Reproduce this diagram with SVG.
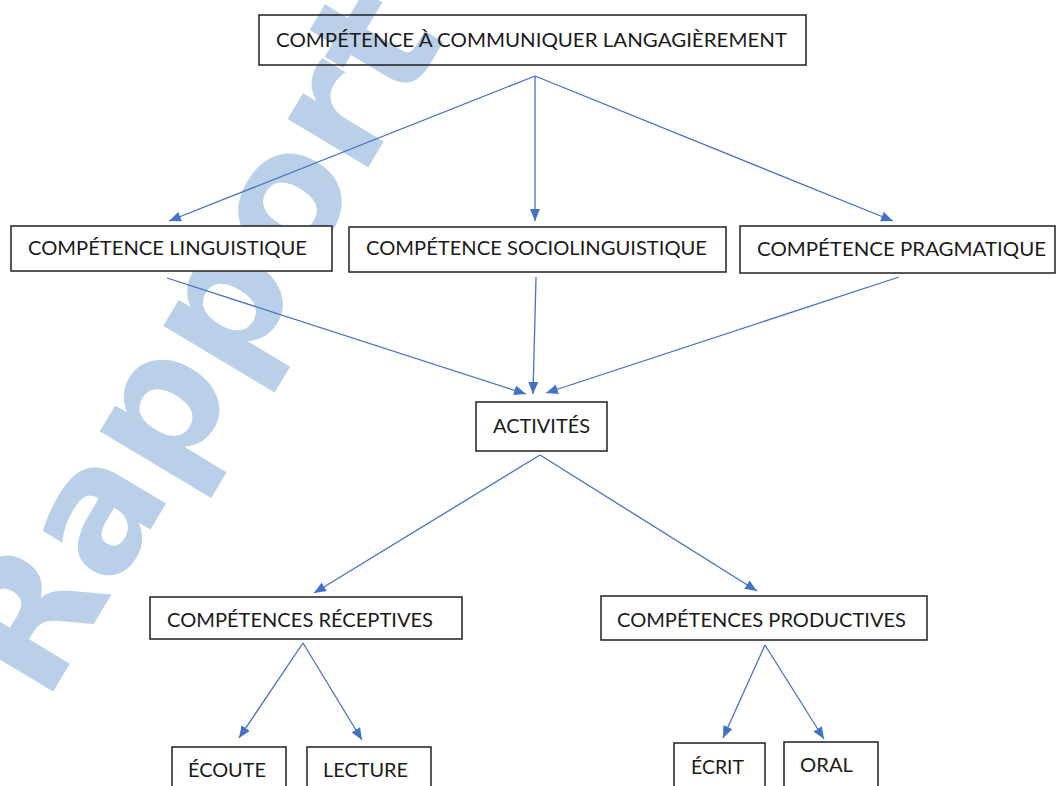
<svg xmlns="http://www.w3.org/2000/svg" width="1057" height="786" viewBox="0 0 1057 786">
<style>
.box{fill:#ffffff;stroke:#1f1f1f;stroke-width:1.5}
.boxt{fill:none;stroke:#1f1f1f;stroke-width:1.5}
.lbl{font-family:Lato,"Open Sans","Liberation Sans",sans-serif;font-size:20px;fill:#1a1a1a}
.con{stroke:#4472C4;stroke-width:1.3;fill:none;marker-end:url(#ah)}
.wm{font-family:"DejaVu Sans",Verdana,sans-serif;font-weight:bold;font-size:172px;fill:#b9d0e8}
</style>
<defs>
<marker id="ah" markerUnits="userSpaceOnUse" markerWidth="13" markerHeight="11" refX="12" refY="5" orient="auto">
<path d="M0,0 L12,5 L0,10 z" fill="#4472C4"/>
</marker>
</defs>
<rect x="0" y="0" width="1057" height="786" fill="#ffffff"/>
<text class="wm" transform="translate(45,705) rotate(-59)">Rapport</text>
<g id="connectors">
<line class="con" x1="535" y1="76" x2="169" y2="221"/>
<line class="con" x1="535" y1="76" x2="535" y2="221"/>
<line class="con" x1="535" y1="76" x2="893" y2="221"/>
<line class="con" x1="167" y1="278" x2="526" y2="394"/>
<line class="con" x1="536" y1="277" x2="533" y2="394"/>
<line class="con" x1="899" y1="277" x2="546" y2="393"/>
<line class="con" x1="540" y1="455" x2="314" y2="593"/>
<line class="con" x1="540" y1="455" x2="757" y2="591"/>
<line class="con" x1="303" y1="643" x2="239" y2="738"/>
<line class="con" x1="303" y1="643" x2="362" y2="740"/>
<line class="con" x1="765" y1="645" x2="723" y2="738"/>
<line class="con" x1="765" y1="645" x2="824" y2="739"/>
</g>
<g id="n-top">
<rect class="boxt" x="259" y="15" width="547" height="50"/>
<text class="lbl" x="276" y="47" textLength="511" lengthAdjust="spacingAndGlyphs">COMPÉTENCE À COMMUNIQUER LANGAGIÈREMENT</text>
</g>
<g id="n-linguistique">
<rect class="box" x="11" y="226" width="321" height="45"/>
<text class="lbl" x="28" y="255" textLength="279" lengthAdjust="spacingAndGlyphs">COMPÉTENCE LINGUISTIQUE</text>
</g>
<g id="n-socio">
<rect class="box" x="349" y="227" width="377" height="45"/>
<text class="lbl" x="366" y="255" textLength="341" lengthAdjust="spacingAndGlyphs">COMPÉTENCE SOCIOLINGUISTIQUE</text>
</g>
<g id="n-pragmatique">
<rect class="box" x="740" y="226" width="315" height="47"/>
<text class="lbl" x="757" y="256" textLength="289" lengthAdjust="spacingAndGlyphs">COMPÉTENCE PRAGMATIQUE</text>
</g>
<g id="n-activites">
<rect class="box" x="476" y="402" width="131" height="49"/>
<text class="lbl" x="493" y="433" textLength="97" lengthAdjust="spacingAndGlyphs">ACTIVITÉS</text>
</g>
<g id="n-receptives">
<rect class="box" x="150" y="597" width="312" height="42"/>
<text class="lbl" x="167" y="627" textLength="266" lengthAdjust="spacingAndGlyphs">COMPÉTENCES RÉCEPTIVES</text>
</g>
<g id="n-productives">
<rect class="box" x="601" y="596" width="326" height="44"/>
<text class="lbl" x="617" y="627" textLength="289" lengthAdjust="spacingAndGlyphs">COMPÉTENCES PRODUCTIVES</text>
</g>
<g id="n-ecoute">
<rect class="box" x="172" y="747" width="114" height="60"/>
<text class="lbl" x="188" y="777" textLength="78" lengthAdjust="spacingAndGlyphs">ÉCOUTE</text>
</g>
<g id="n-lecture">
<rect class="box" x="307" y="747" width="124" height="60"/>
<text class="lbl" x="323" y="777" textLength="85" lengthAdjust="spacingAndGlyphs">LECTURE</text>
</g>
<g id="n-ecrit">
<rect class="box" x="674" y="743" width="91" height="60"/>
<text class="lbl" x="691" y="774" textLength="53" lengthAdjust="spacingAndGlyphs">ÉCRIT</text>
</g>
<g id="n-oral">
<rect class="box" x="784" y="742" width="94" height="60"/>
<text class="lbl" x="800" y="772" textLength="53" lengthAdjust="spacingAndGlyphs">ORAL</text>
</g>
</svg>
